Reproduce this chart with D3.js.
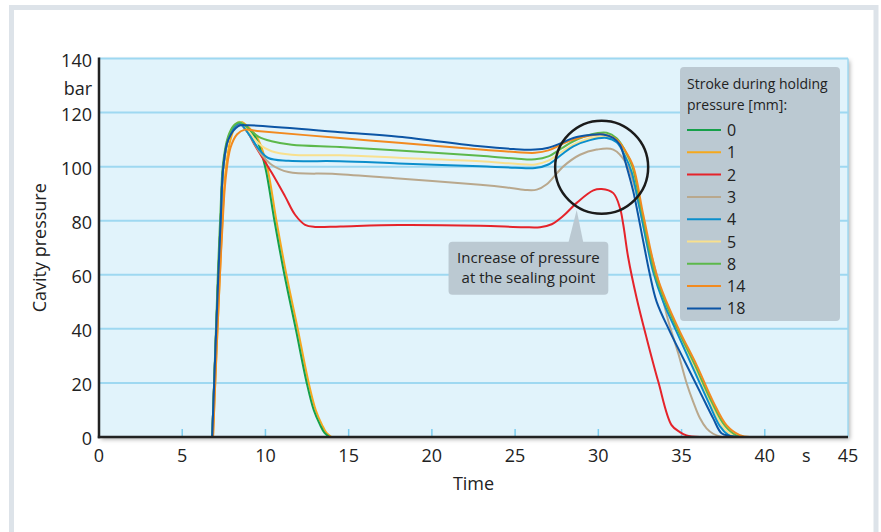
<!DOCTYPE html>
<html><head><meta charset="utf-8">
<script src="https://cdn.jsdelivr.net/npm/d3@7"></script>
<style>
html,body{margin:0;padding:0;background:#fff;}
svg{display:block;}
text{font-family:"Open Sans","Noto Sans",sans-serif;fill:#222;}
</style></head><body>
<svg id="chart" width="881" height="532"></svg>
<script>
// ---------------- data ----------------
const strokes = ["0","1","2","3","4","5","8","14","18"];
const seriesColors = ["#16a04a","#f5a81d","#e5232a","#b9a88d","#0b8ecb","#f8e08e","#5cb84b","#f28a1f","#0c55a5"];
const xTicks = [0,5,10,15,20,25,30,35,40,45];
const yTicks = [0,20,40,60,80,100,120,140];

// [time s, pressure bar]
const s0 = [[6.8,0],[7.0,33],[7.17,60],[7.31,80],[7.47,100],[7.77,110.5],[8.1,115],[8.45,116.3],[8.9,114.5],[9.47,110],[9.98,100],[10.54,80],[11.14,60],[11.82,40],[12.48,20],[12.9,10],[13.28,4.5],[13.55,1.5],[13.85,0]];
const s1 = [[6.85,0],[7.05,30],[7.25,58],[7.4,78],[7.6,98],[7.9,110],[8.2,115],[8.55,116.5],[9.0,114.5],[9.57,110],[10.1,100],[10.66,80],[11.26,60],[11.94,40],[12.6,20],[13.02,10],[13.4,4.5],[13.67,1.5],[13.97,0]];
const s2 = [[6.8,0],[7.0,33],[7.17,60],[7.31,80],[7.47,100],[7.77,110.5],[8.1,114.5],[8.45,115.8],[8.9,113],[9.4,107.5],[10.37,97.8],[11.18,89],[11.78,82.2],[12.38,78.5],[12.98,77.7],[14.5,77.9],[18,78.4],[22.9,78.1],[25.5,77.6],[26.5,77.6],[27.2,78.7],[27.9,81.8],[28.7,86.6],[29.7,91.2],[30.2,91.7],[30.9,90.2],[31.3,84.7],[31.5,78.5],[31.8,66.2],[32.3,51.4],[32.9,36.6],[33.6,20.5],[34.4,4.4],[34.9,1.8],[35.3,0.6],[36.1,0]];
const s3 = [[6.8,0],[7.0,33],[7.17,60],[7.31,80],[7.47,100],[7.77,110.5],[8.1,114.5],[8.45,116],[9.0,112],[9.7,105],[10.37,100.7],[11.38,98],[14.2,97.3],[18,95.6],[22.9,93.3],[24.5,92.3],[25.6,91.4],[26.3,91.5],[26.9,93.5],[27.9,100.1],[28.9,104.4],[29.9,106.3],[30.9,106.3],[31.7,101],[32.2,92],[32.8,76],[33.6,58],[34.2,43],[34.8,31],[35.3,20],[35.7,13],[36.1,7],[36.5,3.2],[36.9,1.2],[37.4,0]];
const s4 = [[6.8,0],[7.0,33],[7.17,60],[7.31,80],[7.47,100],[7.77,110.5],[8.1,114.5],[8.45,116],[9.0,112],[9.6,106.5],[10.17,103.2],[11.38,102.2],[14.48,102],[18,101.2],[22.9,100.1],[25,99.6],[26.2,99.5],[27,100.8],[27.8,104.5],[28.5,107.5],[29.5,109.8],[30.5,110.6],[31.1,109],[31.6,104],[32.0,98],[32.5,84],[33.3,61],[33.9,50],[34.7,39],[35.6,26.7],[36.6,13.1],[37.3,4],[37.8,0.8],[38.2,0]];
const s5 = [[6.8,0],[7.0,33],[7.17,60],[7.31,80],[7.47,100],[7.77,110.5],[8.1,115],[8.45,116.6],[9.0,113],[9.6,108.5],[10.37,105.7],[11.58,104.4],[14.48,104.2],[18,103.3],[22.9,102],[25,101.1],[26.2,100.8],[27,102.2],[27.8,105.5],[28.5,108.1],[29.5,110.5],[30.5,111],[31.1,109.5],[31.6,105],[32.0,99],[32.55,83],[33.35,60],[33.95,50],[34.75,39],[35.7,26.7],[36.7,13.1],[37.45,4],[38.1,0.5],[38.5,0]];
const s8 = [[6.8,0],[7.0,35],[7.15,62],[7.29,82],[7.45,101],[7.75,111],[8.1,115.2],[8.45,116.4],[9.0,114],[9.6,111],[10.37,109.4],[11.58,108.1],[14.48,107.3],[18,106],[22.9,104],[25,103],[26.2,102.7],[27,103.8],[27.8,106.8],[28.5,109.4],[29.5,111.8],[30.5,112.5],[31.1,110.5],[31.6,106],[32.05,100],[32.62,83],[33.42,60],[34.02,50],[34.82,39],[35.8,26.7],[36.8,13.1],[37.6,4.2],[38.3,0.6],[38.8,0]];
const s14 = [[6.85,0],[7.05,30],[7.25,58],[7.4,76],[7.6,95],[7.9,107],[8.3,112],[8.77,113.7],[9.5,113.2],[14.48,110.6],[18,108.8],[22.9,106.3],[25,105.4],[26.2,105.1],[27,106],[27.8,108.3],[28.5,110],[29.5,111.5],[30.3,111.9],[31.1,110],[31.6,106],[32.1,100],[32.7,82.2],[33.5,60],[34.1,50],[34.9,39],[35.9,26.7],[36.9,13.1],[37.7,4.4],[38.5,0.7],[39.1,0]];
const s18 = [[6.8,0],[7.0,33],[7.17,60],[7.31,80],[7.47,100],[7.77,110],[8.37,115],[8.97,115.3],[14.5,112.7],[18,111.1],[22.9,107.5],[24.9,106.5],[26.2,106.3],[27,107],[27.8,108.8],[28.5,110.6],[29.5,111.7],[30.3,111.9],[30.9,110.6],[31.3,108],[31.7,100],[32.1,90.8],[32.7,72.3],[33.1,60],[33.5,50.1],[34.3,39],[35.1,29.1],[36.1,16.8],[36.9,6.9],[37.4,1.4],[37.9,0.4],[38.5,0]];
const seriesData = [s0,s1,s2,s3,s4,s5,s8,s14,s18];

const legendTitle = ["Stroke during holding","pressure [mm]:"];
const noteText = ["Increase of pressure","at the sealing point"];
const noteTip = [28.7,84];       // pointer tip (s, bar)
const noteBox = [21.0,30.6,72.2,52.6]; // x0,x1 (s), yTop,yBottom (bar)
const circleCenter = [30.2,99.8];

// ---------------- chart ----------------
const svg = d3.select("#chart");
const x = d3.scaleLinear().domain([0,45]).range([99,848]);
const y = d3.scaleLinear().domain([0,140]).range([437,58.5]);

const defs = svg.append("defs");
const f = defs.append("filter").attr("id","shadow").attr("x","-5%").attr("y","-5%").attr("width","110%").attr("height","115%");
f.append("feDropShadow").attr("dx",2).attr("dy",2.5).attr("stdDeviation",2).attr("flood-color","#000").attr("flood-opacity",0.3);

// outer frame
svg.append("rect").attr("x",11.5).attr("y",7.5).attr("width",864.5).attr("height",600)
  .attr("fill","#fff").attr("stroke","#dde3e9").attr("stroke-width",5);

// plot background
svg.append("rect").attr("x",x(0)).attr("y",y(140)).attr("width",x(45)-x(0)).attr("height",y(0)-y(140))
  .attr("fill","#e1f3fb").attr("filter","url(#shadow)");

// gridlines
svg.append("g").selectAll("line").data(yTicks.filter(d=>d>0)).join("line")
  .attr("x1",x(0)).attr("x2",x(45)).attr("y1",d=>y(d)).attr("y2",d=>y(d))
  .attr("stroke","#9ed8f1").attr("stroke-width",2);
// right border
svg.append("line").attr("x1",x(45)).attr("x2",x(45)).attr("y1",y(140)).attr("y2",y(0))
  .attr("stroke","#9ed8f1").attr("stroke-width",1.5);

// x tick marks (inside)
svg.append("g").selectAll("line").data(xTicks.filter(d=>d>0&&d<45)).join("line")
  .attr("x1",d=>x(d)).attr("x2",d=>x(d)).attr("y1",y(0)).attr("y2",y(0)-8)
  .attr("stroke","#7ccdf0").attr("stroke-width",1.5);

// lines
const line = d3.line().x(d=>x(d[0])).y(d=>y(Math.max(0,d[1]))).curve(d3.curveCatmullRom.alpha(0.5));
const order = [1,0,2,3,5,4,6,7,8];
svg.append("g").selectAll("path").data(order).join("path")
  .attr("d",i=>line(seriesData[i])).attr("fill","none")
  .attr("stroke",i=>seriesColors[i]).attr("stroke-width",2).attr("stroke-linejoin","round");

// axes lines
svg.append("line").attr("x1",x(0)).attr("x2",x(0)).attr("y1",y(140)-1).attr("y2",y(0)+1.2)
  .attr("stroke","#222").attr("stroke-width",2.5);
svg.append("line").attr("x1",x(0)-1.2).attr("x2",x(45)).attr("y1",y(0)).attr("y2",y(0))
  .attr("stroke","#222").attr("stroke-width",2.5);

// y labels
svg.append("g").selectAll("text").data(yTicks).join("text")
  .attr("x",92).attr("y",d=>y(d)+8).attr("text-anchor","end").attr("font-size",18).text(d=>d);
svg.append("text").attr("x",92).attr("y",y(130)+9).attr("text-anchor","end").attr("font-size",18).text("bar");

// x labels
svg.append("g").selectAll("text").data(xTicks).join("text")
  .attr("x",d=>x(d)).attr("y",462).attr("text-anchor","middle").attr("font-size",18).text(d=>d);
svg.append("text").attr("x",x(42.5)).attr("y",462).attr("text-anchor","middle").attr("font-size",18).text("s");

// axis titles
svg.append("text").attr("x",x(22.5)).attr("y",490).attr("text-anchor","middle").attr("font-size",18).text("Time");
svg.append("text").attr("transform",`translate(46,${y(70)}) rotate(-90)`).attr("text-anchor","middle").attr("font-size",18).text("Cavity pressure");

// legend
const lg = svg.append("g");
lg.append("rect").attr("x",680).attr("y",67).attr("width",160).attr("height",254).attr("rx",4).attr("fill","#bbc9d2");
lg.selectAll("text.t").data(legendTitle).join("text").attr("class","t")
  .attr("x",687).attr("y",(d,i)=>89+i*21).attr("font-size",14).text(d=>d);
const rows = lg.selectAll("g.row").data(strokes).join("g").attr("class","row")
  .attr("transform",(d,i)=>`translate(0,${130+i*22.3})`);
rows.append("line").attr("x1",687).attr("x2",721).attr("y1",0).attr("y2",0)
  .attr("stroke",(d,i)=>seriesColors[i]).attr("stroke-width",2);
rows.append("text").attr("x",727).attr("y",6).attr("font-size",16).text(d=>d);

// annotation
const ann = svg.append("g");
ann.append("path").attr("d",`M${x(noteBox[0]+7.2)},${y(noteBox[2])+1} L${x(noteTip[0])},${y(noteTip[1])} L${x(noteBox[0]+8.1)},${y(noteBox[2])+1} Z`)
  .attr("fill","#bbc9d2");
ann.append("rect").attr("x",x(noteBox[0])).attr("y",y(noteBox[2])).attr("width",x(noteBox[1])-x(noteBox[0]))
  .attr("height",y(noteBox[3])-y(noteBox[2])).attr("rx",4).attr("fill","#bbc9d2");
ann.selectAll("text").data(noteText).join("text")
  .attr("x",(x(noteBox[0])+x(noteBox[1]))/2).attr("y",(d,i)=>y(noteBox[2])+21+i*20.5)
  .attr("text-anchor","middle").attr("font-size",15).text(d=>d);

// circle
svg.append("circle").attr("cx",x(circleCenter[0])).attr("cy",y(circleCenter[1])).attr("r",46.5)
  .attr("fill","none").attr("stroke","#1b1b1b").attr("stroke-width",2.5);
</script>
</body></html>
